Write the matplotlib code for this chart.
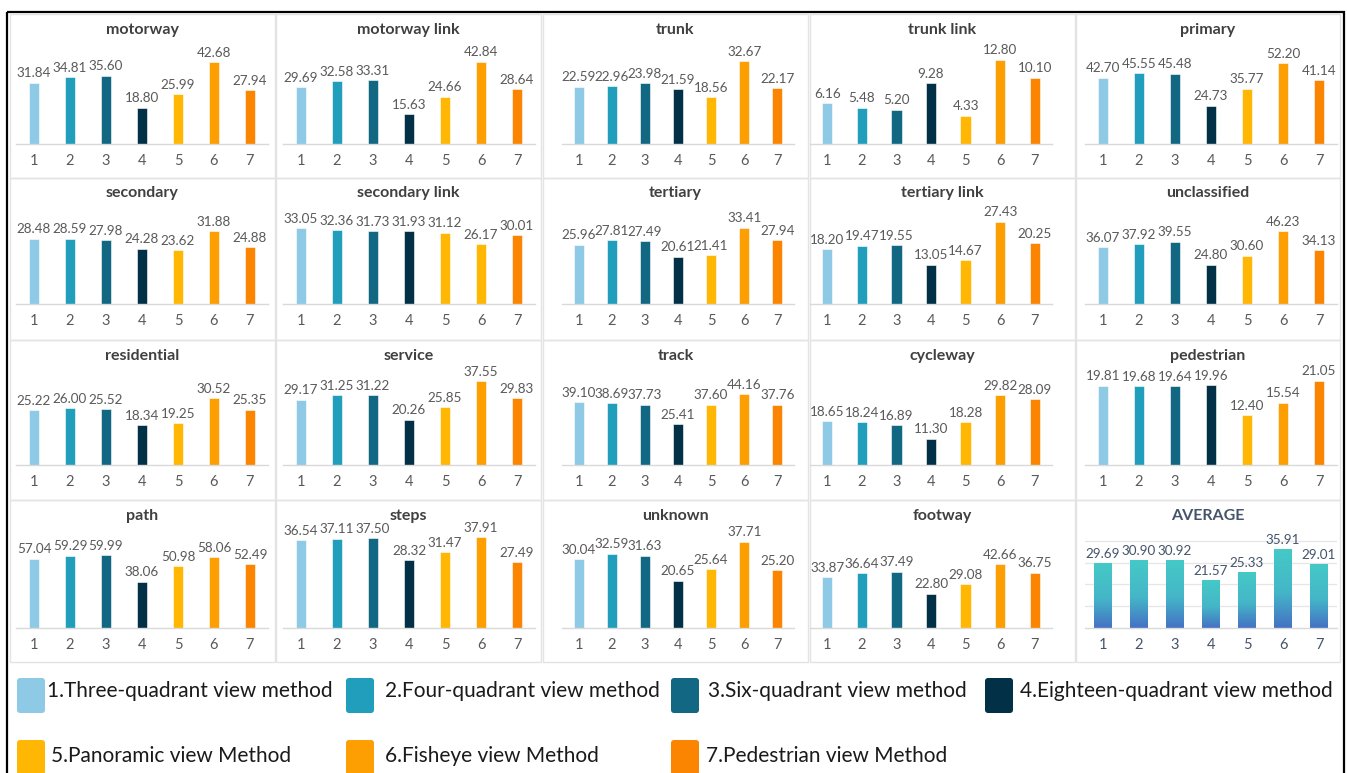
import matplotlib
matplotlib.use("Agg")
import matplotlib.pyplot as plt
import numpy as np
from matplotlib.patches import Rectangle, FancyBboxPatch
from matplotlib.colors import LinearSegmentedColormap

plt.rcParams["font.family"] = ["Lato", "DejaVu Sans"]

W, H, DPI = 1347, 773, 100

# ---- data -------------------------------------------------------------
methods = [
    "1.Three-quadrant view method",
    "2.Four-quadrant view method",
    "3.Six-quadrant view method",
    "4.Eighteen-quadrant view method",
    "5.Panoramic view Method",
    "6.Fisheye view Method",
    "7.Pedestrian view Method",
]
method_ids = ["1", "2", "3", "4", "5", "6", "7"]

motorway = [31.84, 34.81, 35.60, 18.80, 25.99, 42.68, 27.94]
motorway_link = [29.69, 32.58, 33.31, 15.63, 24.66, 42.84, 28.64]
trunk = [22.59, 22.96, 23.98, 21.59, 18.56, 32.67, 22.17]
trunk_link = [6.16, 5.48, 5.20, 9.28, 4.33, 12.80, 10.10]
primary = [42.70, 45.55, 45.48, 24.73, 35.77, 52.20, 41.14]
secondary = [28.48, 28.59, 27.98, 24.28, 23.62, 31.88, 24.88]
secondary_link = [33.05, 32.36, 31.73, 31.93, 31.12, 26.17, 30.01]
tertiary = [25.96, 27.81, 27.49, 20.61, 21.41, 33.41, 27.94]
tertiary_link = [18.20, 19.47, 19.55, 13.05, 14.67, 27.43, 20.25]
unclassified = [36.07, 37.92, 39.55, 24.80, 30.60, 46.23, 34.13]
residential = [25.22, 26.00, 25.52, 18.34, 19.25, 30.52, 25.35]
service = [29.17, 31.25, 31.22, 20.26, 25.85, 37.55, 29.83]
track = [39.10, 38.69, 37.73, 25.41, 37.60, 44.16, 37.76]
cycleway = [18.65, 18.24, 16.89, 11.30, 18.28, 29.82, 28.09]
pedestrian = [19.81, 19.68, 19.64, 19.96, 12.40, 15.54, 21.05]
path = [57.04, 59.29, 59.99, 38.06, 50.98, 58.06, 52.49]
steps = [36.54, 37.11, 37.50, 28.32, 31.47, 37.91, 27.49]
unknown = [30.04, 32.59, 31.63, 20.65, 25.64, 37.71, 25.20]
footway = [33.87, 36.64, 37.49, 22.80, 29.08, 42.66, 36.75]
average = [29.69, 30.90, 30.92, 21.57, 25.33, 35.91, 29.01]

panels = [
    ("motorway", motorway), ("motorway link", motorway_link), ("trunk", trunk),
    ("trunk link", trunk_link), ("primary", primary),
    ("secondary", secondary), ("secondary link", secondary_link),
    ("tertiary", tertiary), ("tertiary link", tertiary_link),
    ("unclassified", unclassified),
    ("residential", residential), ("service", service), ("track", track),
    ("cycleway", cycleway), ("pedestrian", pedestrian),
    ("path", path), ("steps", steps), ("unknown", unknown),
    ("footway", footway), ("AVERAGE", average),
]

# ---- style ------------------------------------------------------------
colors = ["#8ECAE6", "#219EBC", "#126782", "#023047",
          "#FFB703", "#FD9E02", "#FB8500"]
# per-panel value-axis maximum (chart autoscale)
axis_top = [50, 50, 38, 14.6, 62,
            42, 42, 42, 32, 61,
            44, 43, 60, 41, 24,
            79, 40, 42, 64, 44]
# individual bar colour overrides: (panel index, bar index) -> colour
color_override = {(6, 5): "#FFB703"}

col_panel_x = [(10, 275), (276, 541), (543, 808), (810, 1075), (1076, 1340)]
col_axes_x = [(16, 268), (283, 535), (562, 794), (810, 1052), (1085, 1337)]
row_panel_y = [(14, 178), (178, 340), (340, 500), (500, 662)]
row_base = [144, 304, 465, 628]
row_title = [30, 193, 356, 516]
plot_h = 96

TXT = "#595959"
TITLE = "#404040"
AVG = "#44546A"
VAL_FS = 9.7
TICK_FS = 10.5


def px_rect(x0, y0, x1, y1):
    return [x0 / W, 1 - y1 / H, (x1 - x0) / W, (y1 - y0) / H]


fig = plt.figure(figsize=(W / DPI, H / DPI), dpi=DPI)
fig.patch.set_facecolor("white")

# overlay in pixel coordinates for frames and legend
ov = fig.add_axes([0, 0, 1, 1], zorder=0)
ov.set_xlim(0, W)
ov.set_ylim(H, 0)
ov.axis("off")

ov.add_patch(Rectangle((7, 12), 1337, 790, fill=False, ec="black", lw=1.6))

grad_cmap = LinearSegmentedColormap.from_list(
    "avg", [(0.0, "#4472C4"), (0.45, "#44B6C8"), (1.0, "#45C9C6")])
grad = np.linspace(1, 0, 64).reshape(-1, 1)

for k, (name, vals) in enumerate(panels):
    r, c = divmod(k, 5)
    px0, px1 = col_panel_x[c]
    py0, py1 = row_panel_y[r]
    ov.add_patch(Rectangle((px0, py0), px1 - px0, py1 - py0, fill=False,
                           ec="#E3E3E3", lw=1.0))
    ax0, ax1 = col_axes_x[c]
    base = row_base[r]
    ax = fig.add_axes(px_rect(ax0, base - plot_h, ax1, base), zorder=2)
    ax.patch.set_alpha(0)
    x = np.arange(1, 8)
    is_avg = name == "AVERAGE"
    lab_col = AVG if is_avg else TXT
    if is_avg:
        for gy in [10, 20, 30, 40]:
            ax.axhline(gy, color="#E6E6E6", lw=0.9, zorder=0)
        bars = ax.bar(x, vals, width=0.5, color="none", zorder=2)
        for b in bars:
            bx, bw, bh = b.get_x(), b.get_width(), b.get_height()
            ax.imshow(grad, extent=[bx, bx + bw, 0, bh], aspect="auto",
                      cmap=grad_cmap, vmin=0, vmax=1, zorder=2,
                      interpolation="bilinear")
    else:
        cols = [color_override.get((k, i), colors[i]) for i in range(7)]
        ax.bar(x, vals, width=0.3, color=cols, zorder=2,
               edgecolor="white", linewidth=0.4)
    ax.set_xlim(0.5, 7.5)
    ax.set_ylim(0, axis_top[k])
    for xi, v in zip(x, vals):
        ax.annotate(f"{v:.2f}", (xi, v), xytext=(0, 2.5),
                    textcoords="offset points", ha="center", va="bottom",
                    fontsize=VAL_FS, color=lab_col)
    for s in ["top", "left", "right"]:
        ax.spines[s].set_visible(False)
    ax.spines["bottom"].set_color("#D9D9D9")
    ax.spines["bottom"].set_linewidth(1.0)
    ax.set_yticks([])
    ax.set_xticks(x)
    ax.set_xticklabels(method_ids, fontsize=TICK_FS, color=lab_col)
    ax.tick_params(axis="x", length=0, pad=7)
    ov.text((px0 + px1) / 2, row_title[r], name, ha="center", va="center",
            fontsize=11.5, fontweight="bold", color=AVG if is_avg else TITLE)

# legend: (patch x, patch top, text x, text centre y)
leg_items = [
    (17, 678, 47, 691), (346, 678, 385, 691), (671, 678, 708, 691),
    (985, 678, 1020, 691),
    (17, 740, 51, 756), (346, 740, 385, 756), (671, 740, 706, 756),
]
for i, (lx, ly, tx, ty) in enumerate(leg_items):
    ov.add_patch(FancyBboxPatch((lx, ly), 28, 35,
                                boxstyle="round,pad=0,rounding_size=3",
                                fc=colors[i], ec="none"))
    ov.text(tx, ty, methods[i], ha="left", va="center",
            fontsize=15, color="#1A1A1A")

fig.savefig("out.png", dpi=DPI)
